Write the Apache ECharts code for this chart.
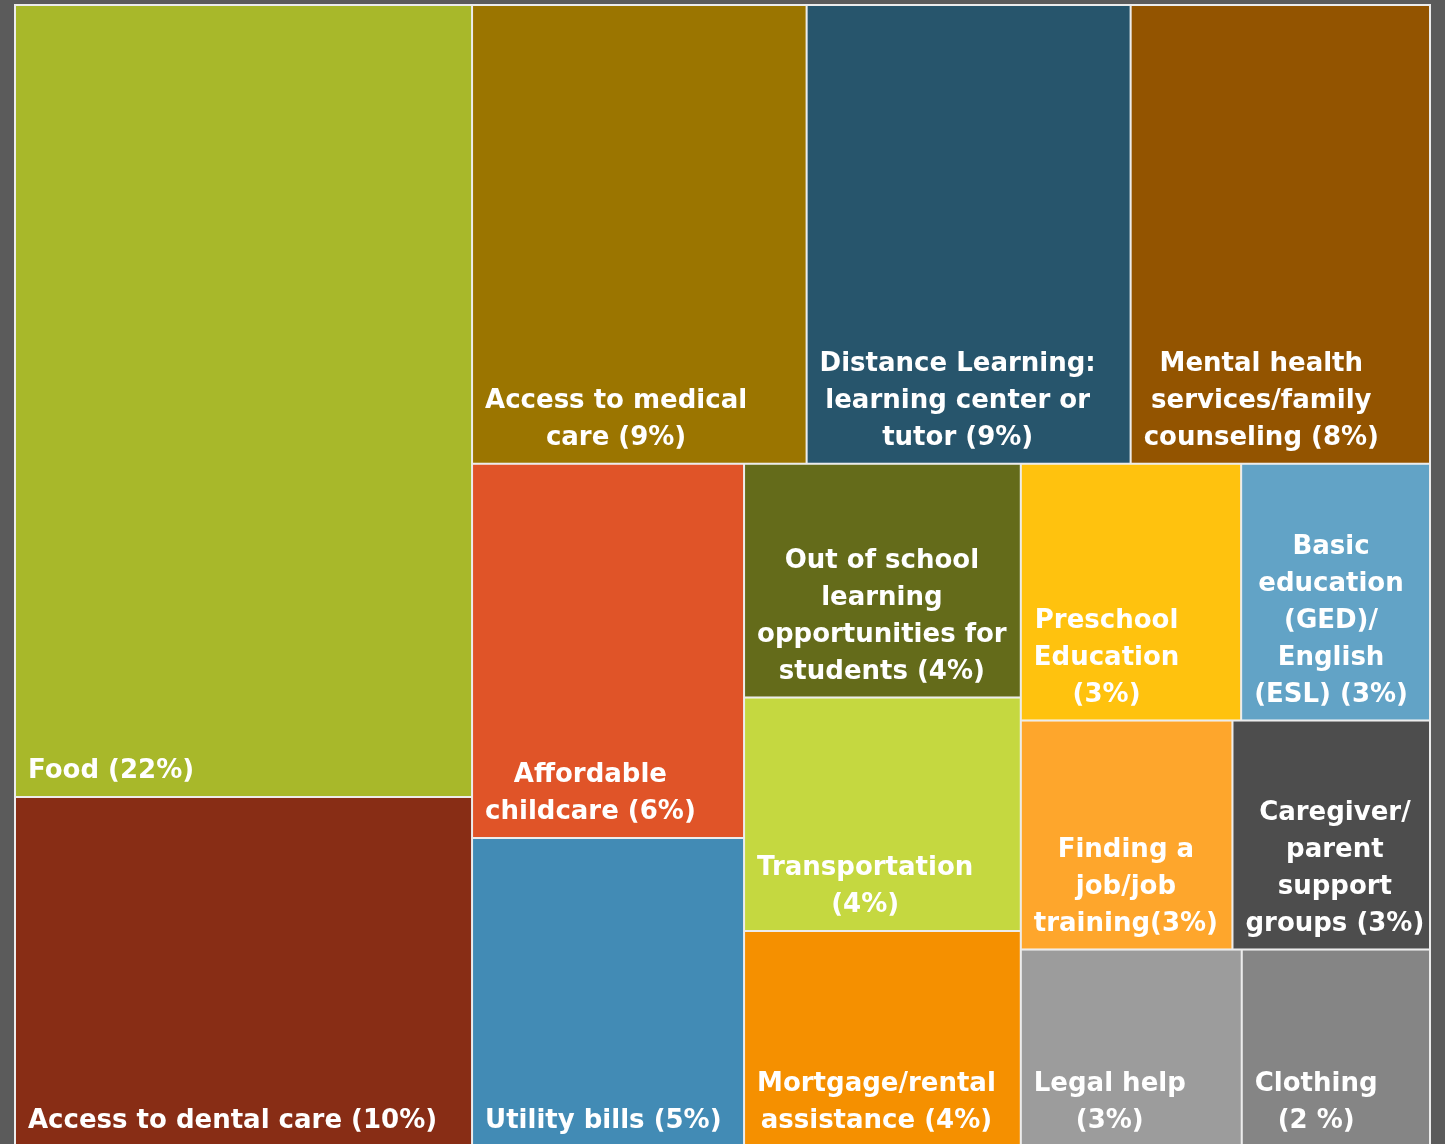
<!DOCTYPE html>
<html>
<head>
<meta charset="utf-8">
<script src="https://cdn.jsdelivr.net/npm/echarts@6/dist/echarts.min.js"></script>
<style>
  html, body { margin: 0; padding: 0; background: #5b5b5b; }
  #chart { width: 1445px; height: 1144px; }
</style>
</head>
<body>
<div id="chart"></div>
<script>
// categories (label text, with the line breaks of the original)
const names = [
  "Food (22%)",
  "Access to dental care (10%)",
  "Access to medical\ncare (9%)",
  "Distance Learning:\nlearning center or\ntutor (9%)",
  "Mental health\nservices/family\ncounseling (8%)",
  "Affordable\nchildcare (6%)",
  "Utility bills (5%)",
  "Out of school\nlearning\nopportunities for\nstudents (4%)",
  "Transportation\n(4%)",
  "Mortgage/rental\nassistance (4%)",
  "Preschool\nEducation\n(3%)",
  "Basic\neducation\n(GED)/\nEnglish\n(ESL) (3%)",
  "Finding a\njob/job\ntraining(3%)",
  "Caregiver/\nparent\nsupport\ngroups (3%)",
  "Legal help\n(3%)",
  "Clothing\n(2 %)"
];
// share of responses
const values = [22.4, 9.9, 9.5, 9.2, 8.5, 6.3, 5.2, 4.0, 4.0, 3.7, 3.5, 3.0, 3.0, 2.8, 2.7, 2.3];
const colors = [
  "#a8b82a", "#882d15", "#9b7500", "#27556c", "#935400", "#e05428", "#428bb5", "#646b1a",
  "#c5d840", "#f59000", "#ffc20e", "#62a3c6", "#fea62c", "#4d4d4d", "#9c9c9c", "#858585"
];

const FONT_SIZE = 26;
const FONT_FAMILY = "DejaVu Sans";
const PAD = 12; // 文字左边距

// 测量文字宽度，让多行文字在左侧居中排列
const ctx = document.createElement("canvas").getContext("2d");
ctx.font = "bold " + FONT_SIZE + "px '" + FONT_FAMILY + "'";
const blockWidth = text => Math.max(...text.split("\n").map(s => ctx.measureText(s).width));

const seriesData = names.map((name, i) => ({
  name: name,
  value: values[i],
  itemStyle: { color: colors[i] },
  label: { position: [PAD + blockWidth(name) / 2, "100%"] }
}));

const myChart = echarts.init(document.getElementById("chart"));
myChart.setOption({
  animation: false,
  series: [
    {
      type: "treemap",
      left: 14,
      right: 14,
      top: 4,
      bottom: -4,
      roam: false,
      nodeClick: false,
      sort: false,
      squareRatio: 1,
      breadcrumb: { show: false },
      levels: [
        { itemStyle: { borderColor: "#ececec", borderWidth: 2, gapWidth: 2 } },
        { itemStyle: { borderWidth: 0, gapWidth: 0 } }
      ],
      label: {
        show: true,
        color: "#fff",
        fontFamily: FONT_FAMILY,
        fontWeight: "bold",
        fontSize: FONT_SIZE,
        lineHeight: 37,
        align: "center",
        verticalAlign: "bottom",
        offset: [0, -6],
        padding: 0,
        overflow: "none"
      },
      emphasis: { disabled: true },
      data: seriesData
    }
  ]
});
</script>
</body>
</html>
